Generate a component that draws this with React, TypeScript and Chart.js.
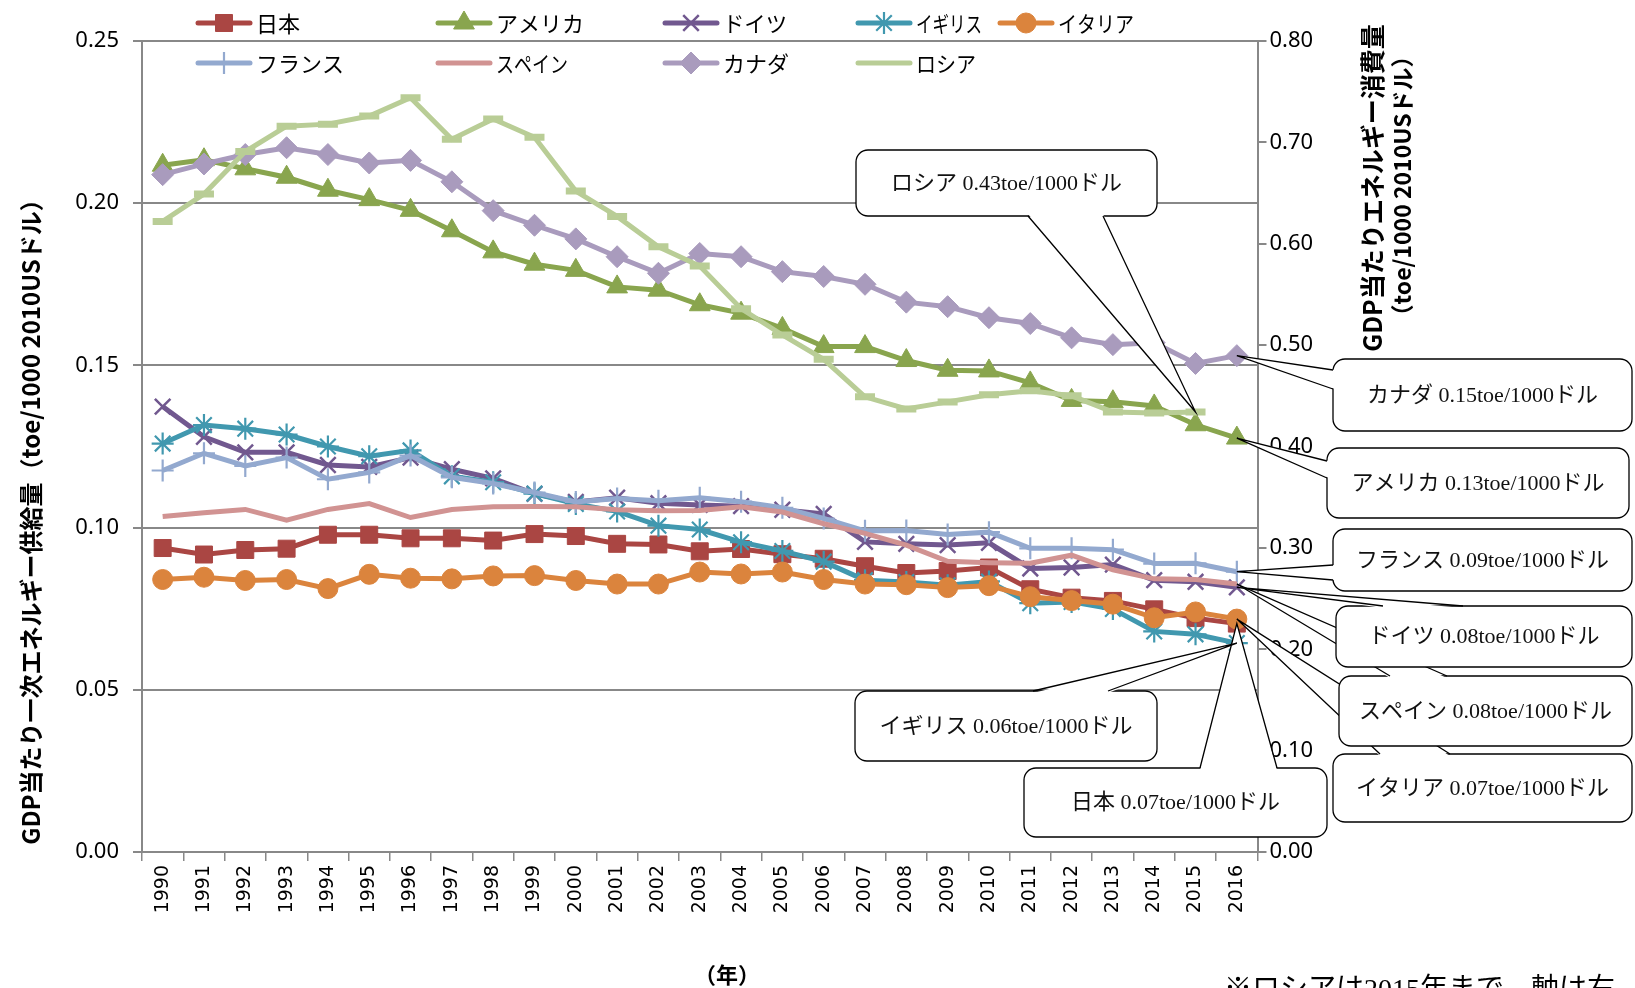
import React, { useEffect, useRef } from 'react';
import { Chart, registerables } from 'chart.js';

Chart.register(...registerables);

// ---------------- data ----------------
const years = ['1990', '1991', '1992', '1993', '1994', '1995', '1996', '1997', '1998', '1999', '2000', '2001', '2002', '2003', '2004', '2005', '2006', '2007', '2008', '2009', '2010', '2011', '2012', '2013', '2014', '2015', '2016'];

const seriesNames = ['日本', 'アメリカ', 'ドイツ', 'イギリス', 'イタリア', 'フランス', 'スペイン', 'カナダ', 'ロシア'];

const japan = [0.0937, 0.0917, 0.0931, 0.0935, 0.0978, 0.0978, 0.0967, 0.0967, 0.0960, 0.0980, 0.0974, 0.0950, 0.0948, 0.0927, 0.0934, 0.0918, 0.0904, 0.0881, 0.0860, 0.0866, 0.0877, 0.0810, 0.0784, 0.0774, 0.0748, 0.0721, 0.0704];
const usa = [0.2117, 0.2134, 0.2106, 0.2080, 0.2040, 0.2011, 0.1978, 0.1915, 0.1850, 0.1812, 0.1793, 0.1742, 0.1732, 0.1687, 0.1661, 0.1614, 0.1558, 0.1558, 0.1515, 0.1485, 0.1483, 0.1446, 0.1392, 0.1388, 0.1375, 0.1317, 0.1276];
const germany = [0.1373, 0.1280, 0.1232, 0.1232, 0.1193, 0.1187, 0.1216, 0.1180, 0.1152, 0.1104, 0.1079, 0.1092, 0.1075, 0.1070, 0.1066, 0.1055, 0.1042, 0.0956, 0.0950, 0.0946, 0.0953, 0.0874, 0.0877, 0.0886, 0.0838, 0.0833, 0.0816];
const uk = [0.1259, 0.1316, 0.1305, 0.1287, 0.1250, 0.1220, 0.1238, 0.1158, 0.1140, 0.1105, 0.1073, 0.1050, 0.1006, 0.0994, 0.0955, 0.0928, 0.0895, 0.0838, 0.0832, 0.0822, 0.0834, 0.0767, 0.0771, 0.0749, 0.0680, 0.0671, 0.0644];
const italy = [0.0840, 0.0847, 0.0837, 0.0840, 0.0812, 0.0856, 0.0844, 0.0842, 0.0851, 0.0852, 0.0837, 0.0826, 0.0826, 0.0863, 0.0857, 0.0863, 0.0840, 0.0826, 0.0824, 0.0815, 0.0821, 0.0787, 0.0775, 0.0764, 0.0722, 0.0740, 0.0718];
const france = [0.1176, 0.1229, 0.1190, 0.1216, 0.1149, 0.1170, 0.1222, 0.1155, 0.1136, 0.1108, 0.1079, 0.1090, 0.1083, 0.1092, 0.1080, 0.1061, 0.1028, 0.0990, 0.0991, 0.0979, 0.0986, 0.0936, 0.0936, 0.0932, 0.0889, 0.0890, 0.0864];
const spain = [0.1034, 0.1046, 0.1056, 0.1023, 0.1056, 0.1074, 0.1031, 0.1056, 0.1064, 0.1065, 0.1064, 0.1055, 0.1052, 0.1053, 0.1064, 0.1048, 0.1012, 0.0982, 0.0946, 0.0896, 0.0892, 0.0890, 0.0915, 0.0870, 0.0842, 0.0840, 0.0826];
const canada = [0.2088, 0.2121, 0.2150, 0.2171, 0.2150, 0.2124, 0.2132, 0.2066, 0.1977, 0.1932, 0.1890, 0.1835, 0.1784, 0.1845, 0.1835, 0.1789, 0.1774, 0.1750, 0.1695, 0.1681, 0.1647, 0.1629, 0.1585, 0.1564, 0.1570, 0.1506, 0.1530];
// right axis (toe/1000 2010USドル), data until 2015
const russia = [0.622, 0.649, 0.691, 0.716, 0.718, 0.726, 0.744, 0.703, 0.723, 0.705, 0.652, 0.627, 0.597, 0.578, 0.536, 0.510, 0.486, 0.449, 0.437, 0.444, 0.451, 0.455, 0.450, 0.434, 0.433, 0.434, null];

const leftTickValues = [0, 0.05, 0.1, 0.15, 0.2, 0.25];
const rightTickValues = [0, 0.1, 0.2, 0.3, 0.4, 0.5, 0.6, 0.7, 0.8];

const seriesData = [japan, usa, germany, uk, italy, france, spain, canada, russia];

// ---------------- styles ----------------
const seriesColors = ['#AA4643', '#89A54E', '#71588F', '#4198AF', '#DB843D', '#93A9CF', '#D19392', '#A99BBD', '#B9CD96'];
const seriesPointStyles = ['rect', 'triangle', 'crossRot', 'star', 'circle', 'cross', 'none', 'rectRot', 'line'];
const seriesPointRadius = [12, 12, 11, 11, 10, 11, 0, 11, 10];
const seriesPointBorder = [1, 1, 2.5, 2.2, 1, 2.2, 1, 1, 7];

const FONT_CJK = '"Noto Sans CJK JP", "Noto Sans", sans-serif';
const FONT_SERIF = '"Liberation Serif", "Noto Sans CJK JP", serif';

// layout of legend & callouts (canvas pixels)
const legendCols = [198, 438, 665, 858, 1000];
const legendRows = [23, 63];
const legendTextMax = [60, 92, 64, 66, 76, 92, 72, 68, 60];

const callouts = [
  { series: 4, point: 26, box: [1333, 754, 299, 68], side: 'top', base: [1380, 1450] },
  { series: 6, point: 26, box: [1339, 676, 293, 70], side: 'top', base: [1390, 1447] },
  { series: 2, point: 26, box: [1336, 606, 296, 61], side: 'top', base: [1383, 1463] },
  { series: 5, point: 26, box: [1333, 529, 299, 62], side: 'left', base: [565, 580] },
  { series: 1, point: 26, box: [1327, 448, 302, 70], side: 'left', base: [461, 478] },
  { series: 7, point: 26, box: [1333, 359, 299, 72], side: 'left', base: [370, 389] },
  { series: 0, point: 26, box: [1024, 768, 303, 69], side: 'top', base: [1200, 1277] },
  { series: 3, point: 26, box: [855, 691, 302, 70], side: 'top', base: [1033, 1108] },
  { series: 8, point: 25, box: [856, 150, 301, 66], side: 'bottom', base: [1028, 1103] },
];

function drawMarker(ctx: any, style: string, x: number, y: number, r: number, color: string, bw: number) {
  if (style === 'none' || r <= 0) return;
  ctx.save();
  ctx.fillStyle = color;
  ctx.strokeStyle = color;
  ctx.lineWidth = bw;
  ctx.beginPath();
  const d = Math.SQRT1_2 * r;
  switch (style) {
    case 'rect':
      ctx.rect(x - d, y - d, 2 * d, 2 * d);
      ctx.fill(); ctx.stroke();
      break;
    case 'triangle': {
      let a = 0;
      ctx.moveTo(x + Math.sin(a) * r, y - Math.cos(a) * r);
      a += (2 * Math.PI) / 3;
      ctx.lineTo(x + Math.sin(a) * r, y - Math.cos(a) * r);
      a += (2 * Math.PI) / 3;
      ctx.lineTo(x + Math.sin(a) * r, y - Math.cos(a) * r);
      ctx.closePath();
      ctx.fill(); ctx.stroke();
      break;
    }
    case 'rectRot':
      ctx.moveTo(x - r, y); ctx.lineTo(x, y - r); ctx.lineTo(x + r, y); ctx.lineTo(x, y + r);
      ctx.closePath(); ctx.fill(); ctx.stroke();
      break;
    case 'circle':
      ctx.arc(x, y, r, 0, Math.PI * 2);
      ctx.fill(); ctx.stroke();
      break;
    case 'cross':
      ctx.moveTo(x, y - r); ctx.lineTo(x, y + r); ctx.moveTo(x - r, y); ctx.lineTo(x + r, y);
      ctx.stroke();
      break;
    case 'crossRot':
      ctx.moveTo(x - d, y - d); ctx.lineTo(x + d, y + d); ctx.moveTo(x - d, y + d); ctx.lineTo(x + d, y - d);
      ctx.stroke();
      break;
    case 'star':
      ctx.moveTo(x, y - r); ctx.lineTo(x, y + r); ctx.moveTo(x - r, y); ctx.lineTo(x + r, y);
      ctx.moveTo(x - d, y - d); ctx.lineTo(x + d, y + d); ctx.moveTo(x - d, y + d); ctx.lineTo(x + d, y - d);
      ctx.stroke();
      break;
    case 'line':
      ctx.moveTo(x - r, y); ctx.lineTo(x + r, y);
      ctx.stroke();
      break;
  }
  ctx.restore();
}

function roundRectPath(ctx: any, x: number, y: number, w: number, h: number, r: number) {
  ctx.beginPath();
  ctx.moveTo(x + r, y);
  ctx.arcTo(x + w, y, x + w, y + h, r);
  ctx.arcTo(x + w, y + h, x, y + h, r);
  ctx.arcTo(x, y + h, x, y, r);
  ctx.arcTo(x, y, x + w, y, r);
  ctx.closePath();
}

const decorPlugin = {
  id: 'decor',
  afterDraw(chart: any) {
    const ctx = chart.ctx;

    // ---- callouts ----
    callouts.forEach((c) => {
      const el = chart.getDatasetMeta(c.series).data[c.point];
      if (!el) return;
      const tx = el.x;
      const ty = el.y;
      const [bx, by, bw, bh] = c.box;
      let b1: number[], b2: number[], i1: number[], i2: number[];
      if (c.side === 'top') {
        b1 = [c.base[0], by]; b2 = [c.base[1], by];
        i1 = [c.base[0], by + 2]; i2 = [c.base[1], by + 2];
      } else if (c.side === 'bottom') {
        b1 = [c.base[0], by + bh]; b2 = [c.base[1], by + bh];
        i1 = [c.base[0], by + bh - 2]; i2 = [c.base[1], by + bh - 2];
      } else {
        b1 = [bx, c.base[0]]; b2 = [bx, c.base[1]];
        i1 = [bx + 2, c.base[0]]; i2 = [bx + 2, c.base[1]];
      }
      ctx.save();
      ctx.lineWidth = 1.3;
      ctx.strokeStyle = '#000';
      ctx.fillStyle = '#fff';
      roundRectPath(ctx, bx, by, bw, bh, 12);
      ctx.fill();
      ctx.stroke();
      ctx.beginPath();
      ctx.moveTo(i1[0], i1[1]);
      ctx.lineTo(tx, ty);
      ctx.lineTo(i2[0], i2[1]);
      ctx.closePath();
      ctx.fill();
      ctx.beginPath();
      ctx.moveTo(b1[0], b1[1]);
      ctx.lineTo(tx, ty);
      ctx.lineTo(b2[0], b2[1]);
      ctx.stroke();
      const v = seriesData[c.series][c.point] as number;
      ctx.fillStyle = '#111';
      ctx.font = `22px ${FONT_SERIF}`;
      ctx.textAlign = 'center';
      ctx.textBaseline = 'middle';
      ctx.fillText(`${seriesNames[c.series]} ${v.toFixed(2)}toe/1000ドル`, bx + bw / 2, by + bh / 2 + 1);
      ctx.restore();
    });

    // ---- legend ----
    ctx.save();
    seriesNames.forEach((name, i) => {
      const row = i < 5 ? 0 : 1;
      const col = i < 5 ? i : i - 5;
      const x = legendCols[col];
      const y = legendRows[row];
      ctx.strokeStyle = seriesColors[i];
      ctx.lineWidth = 5;
      ctx.lineCap = 'round';
      ctx.beginPath();
      ctx.moveTo(x, y);
      ctx.lineTo(x + 52, y);
      ctx.stroke();
      ctx.lineCap = 'butt';
      if (seriesPointStyles[i] !== 'line') {
        drawMarker(ctx, seriesPointStyles[i], x + 26, y, seriesPointRadius[i], seriesColors[i], seriesPointBorder[i]);
      }
      ctx.fillStyle = '#000';
      ctx.font = `22px ${FONT_CJK}`;
      ctx.textAlign = 'left';
      ctx.textBaseline = 'middle';
      ctx.fillText(name, x + 58, y + 1, legendTextMax[i]);
    });
    ctx.restore();

    // ---- axis titles & notes ----
    const rot = (text: string, x: number, y: number, font: string) => {
      ctx.save();
      ctx.translate(x, y);
      ctx.rotate(-Math.PI / 2);
      ctx.font = font;
      ctx.fillStyle = '#000';
      ctx.textAlign = 'center';
      ctx.textBaseline = 'middle';
      ctx.fillText(text, 0, 0);
      ctx.restore();
    };
    rot('GDP当たり一次エネルギー供給量（toe/1000 2010USドル）', 31, 516, `bold 24px ${FONT_CJK}`);
    rot('GDP当たりエネルギー消費量', 1372, 188, `bold 25px ${FONT_CJK}`);
    rot('（toe/1000 2010USドル）', 1402, 186, `bold 23px ${FONT_CJK}`);

    ctx.save();
    ctx.fillStyle = '#000';
    ctx.font = `bold 22px ${FONT_CJK}`;
    ctx.textAlign = 'center';
    ctx.textBaseline = 'middle';
    ctx.fillText('（年）', 727, 975);
    ctx.font = `28px ${FONT_SERIF}`;
    ctx.textAlign = 'left';
    ctx.textBaseline = 'top';
    ctx.fillText('※ロシアは2015年まで、軸は右', 1224, 977);
    ctx.restore();
  },
};

export default function App() {
  const ref = useRef<HTMLCanvasElement | null>(null);

  useEffect(() => {
    if (!ref.current) return;
    const datasets = seriesData.map((d, i) => ({
      label: seriesNames[i],
      data: d,
      yAxisID: i === 8 ? 'y1' : 'y',
      borderColor: seriesColors[i],
      backgroundColor: seriesColors[i],
      borderWidth: 5,
      tension: 0,
      spanGaps: false,
      order: 8 - i,
      pointStyle: seriesPointStyles[i] === 'none' ? 'circle' : seriesPointStyles[i],
      pointRadius: seriesPointRadius[i],
      pointBorderWidth: seriesPointBorder[i],
      pointBackgroundColor: seriesColors[i],
      pointBorderColor: seriesColors[i],
    }));

    const chart = new Chart(ref.current, {
      type: 'line',
      data: { labels: years, datasets },
      options: {
        responsive: false,
        animation: false,
        events: [],
        layout: { padding: { top: 41, left: 0, right: 0, bottom: 0 } },
        plugins: {
          legend: { display: false },
          tooltip: { enabled: false },
          title: { display: false },
        },
        scales: {
          x: {
            type: 'category',
            offset: true,
            grid: { offset: true, drawOnChartArea: false, drawTicks: true, tickLength: 9, color: '#888888', lineWidth: 1.5 },
            border: { display: true, color: '#888888', width: 2 },
            ticks: {
              autoSkip: false,
              minRotation: 90,
              maxRotation: 90,
              padding: 4,
              color: '#000',
              font: { family: '"DejaVu Sans", sans-serif', size: 19 },
            },
            afterFit: (s: any) => { s.height = 136; },
          },
          y: {
            position: 'left',
            min: 0,
            max: 0.25,
            afterBuildTicks: (s: any) => { s.ticks = leftTickValues.map((v) => ({ value: v })); },
            ticks: {
              callback: (v: any) => Number(v).toFixed(2),
              padding: 14,
              color: '#000',
              font: { family: '"Noto Sans", sans-serif', size: 22 },
            },
            grid: { color: '#888888', lineWidth: 2, tickLength: 9, drawTicks: true },
            border: { display: true, color: '#888888', width: 2 },
            afterFit: (s: any) => { s.width = 142; },
          },
          y1: {
            position: 'right',
            min: 0,
            max: 0.8,
            afterBuildTicks: (s: any) => { s.ticks = rightTickValues.map((v) => ({ value: v })); },
            ticks: {
              callback: (v: any) => Number(v).toFixed(2),
              padding: 3,
              color: '#000',
              font: { family: '"Noto Sans", sans-serif', size: 22 },
            },
            grid: { drawOnChartArea: false, color: '#888888', lineWidth: 2, tickLength: 9, drawTicks: true },
            border: { display: true, color: '#888888', width: 2 },
            afterFit: (s: any) => { s.width = 377.5; },
          },
        },
      } as any,
      plugins: [decorPlugin],
    } as any);

    let alive = true;
    if ((document as any).fonts && (document as any).fonts.ready) {
      (document as any).fonts.ready.then(() => { if (alive) chart.update(); });
    }
    return () => { alive = false; chart.destroy(); };
  }, []);

  return (
    <div style={{ position: 'absolute', left: 0, top: 0, width: 1635, height: 988, background: '#fff', overflow: 'hidden' }}>
      <canvas ref={ref} width={1635} height={988} style={{ display: 'block', width: 1635, height: 988 }} />
    </div>
  );
}
